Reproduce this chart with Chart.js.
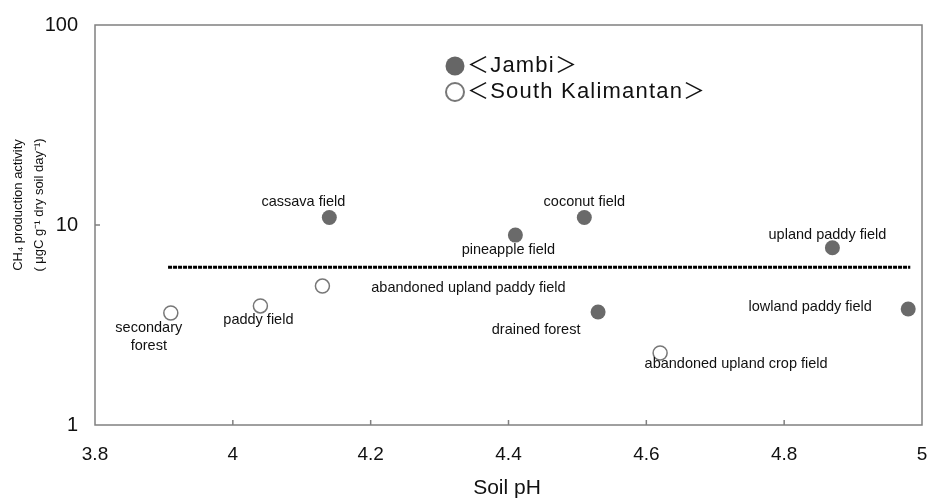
<!DOCTYPE html>
<html>
<head>
<meta charset="utf-8">
<script src="https://cdn.jsdelivr.net/npm/chart.js@4/dist/chart.umd.min.js"></script>
<style>
  html, body { margin: 0; padding: 0; background: #ffffff; }
  #wrap { width: 927px; height: 502px; }
</style>
</head>
<body>
<div id="wrap"><canvas id="c" width="927" height="502"></canvas></div>
<script>
// ---- data ----
const xTicks = [3.8, 4, 4.2, 4.4, 4.6, 4.8, 5];
const xTickLabels = ["3.8", "4", "4.2", "4.4", "4.6", "4.8", "5"];
const yTicks = [1, 10, 100];
const yTickLabels = ["1", "10", "100"];

const jambiSites = ["cassava field", "pineapple field", "coconut field", "upland paddy field", "drained forest", "lowland paddy field"];
const jambiPH = [4.14, 4.41, 4.51, 4.87, 4.53, 4.98];
const jambiCH4 = [10.9, 8.9, 10.9, 7.7, 3.67, 3.8];

const kalSites = ["secondary\nforest", "paddy field", "abandoned upland paddy field", "abandoned upland crop field"];
const kalPH = [3.91, 4.04, 4.13, 4.62];
const kalCH4 = [3.63, 3.94, 4.95, 2.29];

const refPH = [3.906, 4.983];
const refCH4 = [6.15, 6.15];

const legendNames = ["＜Jambi＞", "＜South Kalimantan＞"];

// ---- label placement (pixel offsets from the marker) ----
const jambiLabelOffsets = [[-26, -16], [-7, 15], [0, -16], [-5, -13], [-62, 18], [-98, -2]];
const kalLabelOffsets = [[-22, 15], [-2, 14], [146, 2], [76, 11]];

const FONT = '"Liberation Sans", Arial, sans-serif';

const toPts = (xs, ys) => xs.map((x, i) => ({ x: x, y: ys[i] }));

const overlay = {
  id: 'overlay',
  beforeDatasetsDraw(chart) {
    const { ctx, chartArea: a, scales } = chart;
    ctx.save();
    ctx.strokeStyle = '#808080';
    ctx.lineWidth = 1.5;
    ctx.strokeRect(a.left, a.top, a.right - a.left, a.bottom - a.top);
    // inward tick marks
    ctx.beginPath();
    xTicks.slice(1, -1).forEach(v => {
      const px = scales.x.getPixelForValue(v);
      ctx.moveTo(px, a.bottom);
      ctx.lineTo(px, a.bottom - 5);
    });
    yTicks.slice(1, -1).forEach(v => {
      const py = scales.y.getPixelForValue(v);
      ctx.moveTo(a.left, py);
      ctx.lineTo(a.left + 5, py);
    });
    ctx.stroke();
    // x tick labels
    ctx.fillStyle = '#111';
    ctx.font = '19px ' + FONT;
    ctx.textAlign = 'center';
    ctx.textBaseline = 'middle';
    xTicks.forEach((v, i) => {
      ctx.fillText(xTickLabels[i], scales.x.getPixelForValue(v), a.bottom + 30);
    });
    ctx.restore();
  },
  afterDatasetsDraw(chart) {
    const { ctx, scales } = chart;
    ctx.save();
    ctx.fillStyle = '#111';
    ctx.font = '14.5px ' + FONT;
    ctx.textAlign = 'center';
    ctx.textBaseline = 'middle';
    const drawLabels = (names, xs, ys, offs) => {
      names.forEach((n, i) => {
        const px = scales.x.getPixelForValue(xs[i]);
        const py = scales.y.getPixelForValue(ys[i]);
        const lines = n.split('\n');
        const lh = 18;
        const cy = py + offs[i][1] + (lines.length > 1 ? (lh * (lines.length - 1)) / 2 : 0);
        lines.forEach((ln, k) => {
          ctx.fillText(ln, px + offs[i][0], cy - (lh * (lines.length - 1)) / 2 + k * lh);
        });
      });
    };
    drawLabels(jambiSites, jambiPH, jambiCH4, jambiLabelOffsets);
    drawLabels(kalSites, kalPH, kalCH4, kalLabelOffsets);
    ctx.restore();
  },
  afterDraw(chart) {
    const { ctx } = chart;
    ctx.save();
    // legend
    ctx.beginPath();
    ctx.arc(455, 66, 9.5, 0, Math.PI * 2);
    ctx.fillStyle = '#666';
    ctx.fill();
    ctx.beginPath();
    ctx.arc(455, 92, 9, 0, Math.PI * 2);
    ctx.fillStyle = '#fff';
    ctx.fill();
    ctx.lineWidth = 2;
    ctx.strokeStyle = '#777';
    ctx.stroke();
    ctx.fillStyle = '#111';
    ctx.font = '22px ' + FONT + ', "Noto Sans CJK JP"';
    ctx.textAlign = 'left';
    ctx.textBaseline = 'middle';
    if ('letterSpacing' in ctx) ctx.letterSpacing = '1.2px';
    ctx.fillText(legendNames[0], 467, 66);
    ctx.fillText(legendNames[1], 467, 92);
    if ('letterSpacing' in ctx) ctx.letterSpacing = '0px';
    // axis titles
    ctx.font = '21px ' + FONT;
    ctx.textAlign = 'center';
    ctx.fillText('Soil pH', 507, 488);
    ctx.font = '13px ' + FONT;
    ctx.translate(18, 205);
    ctx.rotate(-Math.PI / 2);
    ctx.fillText('CH₄ production activity', 0, 0);
    ctx.fillText('( μgC g⁻¹ dry soil day⁻¹)', 0, 21);
    ctx.restore();
  }
};

new Chart(document.getElementById('c'), {
  data: {
    datasets: [
      {
        type: 'line',
        label: 'reference',
        data: toPts(refPH, refCH4),
        borderColor: '#000',
        borderWidth: 3,
        borderDash: [4, 1],
        pointRadius: 0,
        fill: false,
        order: 3
      },
      {
        type: 'scatter',
        label: 'Jambi',
        data: toPts(jambiPH, jambiCH4),
        pointRadius: 7.5,
        pointBackgroundColor: '#6a6a6a',
        pointBorderColor: '#6a6a6a',
        pointBorderWidth: 0,
        order: 1
      },
      {
        type: 'scatter',
        label: 'South Kalimantan',
        data: toPts(kalPH, kalCH4),
        pointRadius: 7,
        pointBackgroundColor: '#ffffff',
        pointBorderColor: '#777',
        pointBorderWidth: 1.5,
        order: 2
      }
    ]
  },
  options: {
    responsive: false,
    animation: false,
    devicePixelRatio: 1,
    layout: { autoPadding: false, padding: { top: 25, right: 5, left: 0, bottom: 0 } },
    plugins: { legend: { display: false }, tooltip: { enabled: false } },
    scales: {
      x: {
        type: 'linear',
        min: 3.8,
        max: 5,
        grid: { display: false, drawTicks: false },
        border: { display: false },
        afterBuildTicks: s => { s.ticks = xTicks.map(v => ({ value: v })); },
        ticks: { display: false },
        afterFit: s => { s.height = 77; s.paddingLeft = 0; s.paddingRight = 0; }
      },
      y: {
        type: 'logarithmic',
        min: 1,
        max: 100,
        grid: { display: false, drawTicks: false },
        border: { display: false },
        afterBuildTicks: s => { s.ticks = yTicks.map(v => ({ value: v })); },
        ticks: {
          padding: 17,
          color: '#111',
          font: { family: FONT, size: 20 },
          autoSkip: false,
          callback: (v, i) => yTickLabels[i]
        },
        afterFit: s => { s.width = 95; s.paddingTop = 0; s.paddingBottom = 0; }
      }
    }
  },
  plugins: [overlay]
});
</script>
</body>
</html>
